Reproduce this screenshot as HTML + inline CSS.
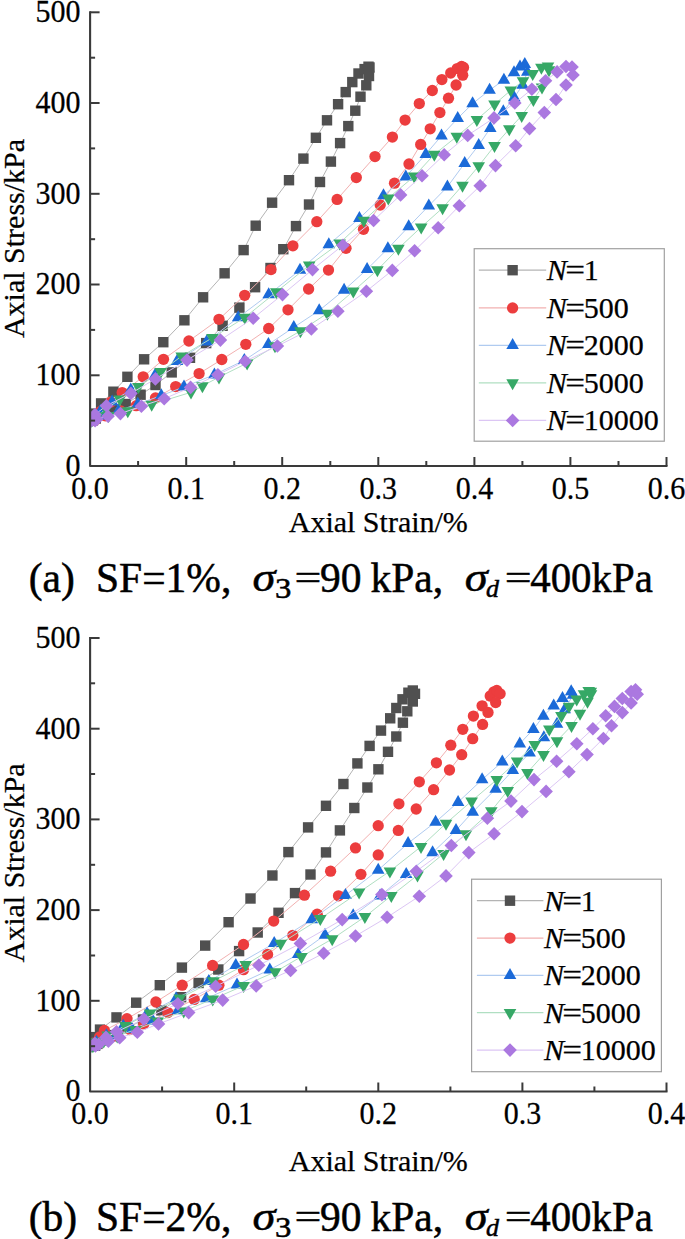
<!DOCTYPE html>
<html><head><meta charset="utf-8"><style>
html,body{margin:0;padding:0;background:#fff;}
svg{display:block;}
.t{font-family:"Liberation Serif", serif;font-size:30px;fill:#000;stroke:#000;stroke-width:0.25px;}
.c{font-family:"Liberation Serif", serif;font-size:41.5px;fill:#000;stroke:#000;stroke-width:0.5px;}
</style></head><body>
<svg width="685" height="1239" viewBox="0 0 685 1239">
<rect width="685" height="1239" fill="#fff"/>
<clipPath id="ca"><rect x="90.5" y="-14.0" width="590" height="480"/></clipPath>
<g clip-path="url(#ca)">
<polyline points="91.6,420.4 93.1,417.7 95.0,413.6 101.1,403.4 113.4,391.7 127.4,376.8 144.1,359.3 163.3,342.2 184.4,320.3 203.1,297.3 224.6,273.3 243.6,250.1 255.7,225.7 272.1,202.7 289.0,180.2 303.4,158.6 315.9,137.8 327.0,120.3 338.1,104.2 345.7,92.1 352.3,82.1 358.5,73.5 364.6,69.1 368.5,66.7 369.5,67.5 369.0,76.0 366.3,85.3 360.5,96.7 355.3,110.7 348.3,126.1 340.1,143.1 330.9,161.6 320.0,182.0 309.0,204.5 296.0,226.1 283.3,249.2 270.5,268.0 255.1,287.2 239.4,307.6 222.6,325.8 206.2,343.1 190.0,357.8 171.7,372.4 155.5,385.0 140.6,394.7 125.7,404.0 112.5,409.2 102.6,415.1 95.8,418.5 92.9,420.3" fill="none" stroke="#b4b4b4" stroke-width="1"/>
<rect x="86.4" y="415.2" width="10.4" height="10.4" fill="#505050"/>
<rect x="87.9" y="412.5" width="10.4" height="10.4" fill="#505050"/>
<rect x="89.8" y="408.4" width="10.4" height="10.4" fill="#505050"/>
<rect x="95.9" y="398.2" width="10.4" height="10.4" fill="#505050"/>
<rect x="108.2" y="386.5" width="10.4" height="10.4" fill="#505050"/>
<rect x="122.2" y="371.6" width="10.4" height="10.4" fill="#505050"/>
<rect x="138.9" y="354.1" width="10.4" height="10.4" fill="#505050"/>
<rect x="158.1" y="337.0" width="10.4" height="10.4" fill="#505050"/>
<rect x="179.2" y="315.1" width="10.4" height="10.4" fill="#505050"/>
<rect x="197.9" y="292.1" width="10.4" height="10.4" fill="#505050"/>
<rect x="219.4" y="268.1" width="10.4" height="10.4" fill="#505050"/>
<rect x="238.4" y="244.9" width="10.4" height="10.4" fill="#505050"/>
<rect x="250.5" y="220.5" width="10.4" height="10.4" fill="#505050"/>
<rect x="266.9" y="197.5" width="10.4" height="10.4" fill="#505050"/>
<rect x="283.8" y="175.0" width="10.4" height="10.4" fill="#505050"/>
<rect x="298.2" y="153.4" width="10.4" height="10.4" fill="#505050"/>
<rect x="310.7" y="132.6" width="10.4" height="10.4" fill="#505050"/>
<rect x="321.8" y="115.1" width="10.4" height="10.4" fill="#505050"/>
<rect x="332.9" y="99.0" width="10.4" height="10.4" fill="#505050"/>
<rect x="340.5" y="86.9" width="10.4" height="10.4" fill="#505050"/>
<rect x="347.1" y="76.9" width="10.4" height="10.4" fill="#505050"/>
<rect x="353.3" y="68.3" width="10.4" height="10.4" fill="#505050"/>
<rect x="359.4" y="63.9" width="10.4" height="10.4" fill="#505050"/>
<rect x="363.3" y="61.5" width="10.4" height="10.4" fill="#505050"/>
<rect x="364.3" y="62.3" width="10.4" height="10.4" fill="#505050"/>
<rect x="363.8" y="70.8" width="10.4" height="10.4" fill="#505050"/>
<rect x="361.1" y="80.1" width="10.4" height="10.4" fill="#505050"/>
<rect x="355.3" y="91.5" width="10.4" height="10.4" fill="#505050"/>
<rect x="350.1" y="105.5" width="10.4" height="10.4" fill="#505050"/>
<rect x="343.1" y="120.9" width="10.4" height="10.4" fill="#505050"/>
<rect x="334.9" y="137.9" width="10.4" height="10.4" fill="#505050"/>
<rect x="325.7" y="156.4" width="10.4" height="10.4" fill="#505050"/>
<rect x="314.8" y="176.8" width="10.4" height="10.4" fill="#505050"/>
<rect x="303.8" y="199.3" width="10.4" height="10.4" fill="#505050"/>
<rect x="290.8" y="220.9" width="10.4" height="10.4" fill="#505050"/>
<rect x="278.1" y="244.0" width="10.4" height="10.4" fill="#505050"/>
<rect x="265.3" y="262.8" width="10.4" height="10.4" fill="#505050"/>
<rect x="249.9" y="282.0" width="10.4" height="10.4" fill="#505050"/>
<rect x="234.2" y="302.4" width="10.4" height="10.4" fill="#505050"/>
<rect x="217.4" y="320.6" width="10.4" height="10.4" fill="#505050"/>
<rect x="201.0" y="337.9" width="10.4" height="10.4" fill="#505050"/>
<rect x="184.8" y="352.6" width="10.4" height="10.4" fill="#505050"/>
<rect x="166.5" y="367.2" width="10.4" height="10.4" fill="#505050"/>
<rect x="150.3" y="379.8" width="10.4" height="10.4" fill="#505050"/>
<rect x="135.4" y="389.5" width="10.4" height="10.4" fill="#505050"/>
<rect x="120.5" y="398.8" width="10.4" height="10.4" fill="#505050"/>
<rect x="107.3" y="404.0" width="10.4" height="10.4" fill="#505050"/>
<rect x="97.4" y="409.9" width="10.4" height="10.4" fill="#505050"/>
<rect x="90.6" y="413.3" width="10.4" height="10.4" fill="#505050"/>
<rect x="87.7" y="415.1" width="10.4" height="10.4" fill="#505050"/>
<polyline points="91.4,420.4 94.3,417.4 100.7,411.3 110.8,402.1 122.2,392.6 143.2,376.8 163.5,359.3 188.9,341.0 219.0,319.3 244.7,295.3 271.0,269.6 292.9,245.8 316.8,221.7 337.1,199.4 356.3,177.6 375.0,156.6 392.4,137.1 405.1,120.1 419.3,103.6 432.3,90.5 441.9,79.6 450.7,73.0 457.2,68.6 461.6,66.4 463.5,67.5 462.7,75.2 456.1,85.0 448.5,98.2 439.9,112.6 430.2,128.8 420.7,144.4 409.0,164.0 394.5,183.2 380.2,205.0 363.5,229.3 346.0,248.3 328.5,270.1 308.6,289.0 288.0,309.8 268.7,328.5 245.8,344.3 221.8,359.5 199.1,373.6 175.7,386.6 155.5,398.0 136.2,405.7 120.6,410.9 105.3,415.8 94.5,419.0 94.4,420.5" fill="none" stroke="#f2b0b0" stroke-width="1"/>
<circle cx="91.4" cy="420.4" r="5.65" fill="#ec3d3e"/>
<circle cx="94.3" cy="417.4" r="5.65" fill="#ec3d3e"/>
<circle cx="100.7" cy="411.3" r="5.65" fill="#ec3d3e"/>
<circle cx="110.8" cy="402.1" r="5.65" fill="#ec3d3e"/>
<circle cx="122.2" cy="392.6" r="5.65" fill="#ec3d3e"/>
<circle cx="143.2" cy="376.8" r="5.65" fill="#ec3d3e"/>
<circle cx="163.5" cy="359.3" r="5.65" fill="#ec3d3e"/>
<circle cx="188.9" cy="341.0" r="5.65" fill="#ec3d3e"/>
<circle cx="219.0" cy="319.3" r="5.65" fill="#ec3d3e"/>
<circle cx="244.7" cy="295.3" r="5.65" fill="#ec3d3e"/>
<circle cx="271.0" cy="269.6" r="5.65" fill="#ec3d3e"/>
<circle cx="292.9" cy="245.8" r="5.65" fill="#ec3d3e"/>
<circle cx="316.8" cy="221.7" r="5.65" fill="#ec3d3e"/>
<circle cx="337.1" cy="199.4" r="5.65" fill="#ec3d3e"/>
<circle cx="356.3" cy="177.6" r="5.65" fill="#ec3d3e"/>
<circle cx="375.0" cy="156.6" r="5.65" fill="#ec3d3e"/>
<circle cx="392.4" cy="137.1" r="5.65" fill="#ec3d3e"/>
<circle cx="405.1" cy="120.1" r="5.65" fill="#ec3d3e"/>
<circle cx="419.3" cy="103.6" r="5.65" fill="#ec3d3e"/>
<circle cx="432.3" cy="90.5" r="5.65" fill="#ec3d3e"/>
<circle cx="441.9" cy="79.6" r="5.65" fill="#ec3d3e"/>
<circle cx="450.7" cy="73.0" r="5.65" fill="#ec3d3e"/>
<circle cx="457.2" cy="68.6" r="5.65" fill="#ec3d3e"/>
<circle cx="461.6" cy="66.4" r="5.65" fill="#ec3d3e"/>
<circle cx="463.5" cy="67.5" r="5.65" fill="#ec3d3e"/>
<circle cx="462.7" cy="75.2" r="5.65" fill="#ec3d3e"/>
<circle cx="456.1" cy="85.0" r="5.65" fill="#ec3d3e"/>
<circle cx="448.5" cy="98.2" r="5.65" fill="#ec3d3e"/>
<circle cx="439.9" cy="112.6" r="5.65" fill="#ec3d3e"/>
<circle cx="430.2" cy="128.8" r="5.65" fill="#ec3d3e"/>
<circle cx="420.7" cy="144.4" r="5.65" fill="#ec3d3e"/>
<circle cx="409.0" cy="164.0" r="5.65" fill="#ec3d3e"/>
<circle cx="394.5" cy="183.2" r="5.65" fill="#ec3d3e"/>
<circle cx="380.2" cy="205.0" r="5.65" fill="#ec3d3e"/>
<circle cx="363.5" cy="229.3" r="5.65" fill="#ec3d3e"/>
<circle cx="346.0" cy="248.3" r="5.65" fill="#ec3d3e"/>
<circle cx="328.5" cy="270.1" r="5.65" fill="#ec3d3e"/>
<circle cx="308.6" cy="289.0" r="5.65" fill="#ec3d3e"/>
<circle cx="288.0" cy="309.8" r="5.65" fill="#ec3d3e"/>
<circle cx="268.7" cy="328.5" r="5.65" fill="#ec3d3e"/>
<circle cx="245.8" cy="344.3" r="5.65" fill="#ec3d3e"/>
<circle cx="221.8" cy="359.5" r="5.65" fill="#ec3d3e"/>
<circle cx="199.1" cy="373.6" r="5.65" fill="#ec3d3e"/>
<circle cx="175.7" cy="386.6" r="5.65" fill="#ec3d3e"/>
<circle cx="155.5" cy="398.0" r="5.65" fill="#ec3d3e"/>
<circle cx="136.2" cy="405.7" r="5.65" fill="#ec3d3e"/>
<circle cx="120.6" cy="410.9" r="5.65" fill="#ec3d3e"/>
<circle cx="105.3" cy="415.8" r="5.65" fill="#ec3d3e"/>
<circle cx="94.5" cy="419.0" r="5.65" fill="#ec3d3e"/>
<circle cx="94.4" cy="420.5" r="5.65" fill="#ec3d3e"/>
<polyline points="92.6,420.3 94.7,417.3 100.5,411.1 112.1,401.8 130.8,389.7 155.3,374.8 177.0,361.2 206.6,341.8 238.2,317.6 268.7,294.6 300.0,270.1 328.8,244.6 359.4,218.3 383.5,195.5 405.8,176.7 425.8,154.2 441.5,135.8 457.7,118.3 472.6,103.6 489.6,90.1 503.9,80.0 514.0,72.5 520.0,66.8 524.8,64.2 527.3,72.0 522.6,85.0 514.2,97.6 503.3,111.5 490.3,128.2 478.7,145.2 464.7,163.2 447.4,186.8 428.8,205.8 408.7,226.6 387.9,248.5 367.1,269.3 344.1,290.1 319.2,310.5 293.8,327.3 268.4,344.4 244.3,360.3 214.4,374.7 184.0,386.9 161.3,395.6 137.8,404.0 118.5,410.7 103.9,415.7 94.3,418.9 91.0,420.4" fill="none" stroke="#b0cbf0" stroke-width="1"/>
<path d="M92.6 413.0L98.9 424.0L86.3 424.0Z" fill="#1b6ad8"/>
<path d="M94.7 410.0L101.0 421.0L88.4 421.0Z" fill="#1b6ad8"/>
<path d="M100.5 403.8L106.8 414.8L94.2 414.8Z" fill="#1b6ad8"/>
<path d="M112.1 394.5L118.4 405.5L105.8 405.5Z" fill="#1b6ad8"/>
<path d="M130.8 382.4L137.1 393.4L124.5 393.4Z" fill="#1b6ad8"/>
<path d="M155.3 367.5L161.6 378.5L149.0 378.5Z" fill="#1b6ad8"/>
<path d="M177.0 353.9L183.3 364.9L170.7 364.9Z" fill="#1b6ad8"/>
<path d="M206.6 334.5L212.9 345.5L200.3 345.5Z" fill="#1b6ad8"/>
<path d="M238.2 310.3L244.5 321.3L231.9 321.3Z" fill="#1b6ad8"/>
<path d="M268.7 287.3L275.0 298.3L262.4 298.3Z" fill="#1b6ad8"/>
<path d="M300.0 262.8L306.3 273.8L293.7 273.8Z" fill="#1b6ad8"/>
<path d="M328.8 237.3L335.1 248.3L322.5 248.3Z" fill="#1b6ad8"/>
<path d="M359.4 211.0L365.7 222.0L353.1 222.0Z" fill="#1b6ad8"/>
<path d="M383.5 188.2L389.8 199.2L377.2 199.2Z" fill="#1b6ad8"/>
<path d="M405.8 169.4L412.1 180.4L399.5 180.4Z" fill="#1b6ad8"/>
<path d="M425.8 146.9L432.1 157.9L419.5 157.9Z" fill="#1b6ad8"/>
<path d="M441.5 128.5L447.8 139.5L435.2 139.5Z" fill="#1b6ad8"/>
<path d="M457.7 111.0L464.0 122.0L451.4 122.0Z" fill="#1b6ad8"/>
<path d="M472.6 96.3L478.9 107.3L466.3 107.3Z" fill="#1b6ad8"/>
<path d="M489.6 82.8L495.9 93.8L483.3 93.8Z" fill="#1b6ad8"/>
<path d="M503.9 72.7L510.2 83.7L497.6 83.7Z" fill="#1b6ad8"/>
<path d="M514.0 65.2L520.3 76.2L507.7 76.2Z" fill="#1b6ad8"/>
<path d="M520.0 59.5L526.3 70.5L513.7 70.5Z" fill="#1b6ad8"/>
<path d="M524.8 56.9L531.1 67.9L518.5 67.9Z" fill="#1b6ad8"/>
<path d="M527.3 64.7L533.6 75.7L521.0 75.7Z" fill="#1b6ad8"/>
<path d="M522.6 77.7L528.9 88.7L516.3 88.7Z" fill="#1b6ad8"/>
<path d="M514.2 90.3L520.5 101.3L507.9 101.3Z" fill="#1b6ad8"/>
<path d="M503.3 104.2L509.6 115.2L497.0 115.2Z" fill="#1b6ad8"/>
<path d="M490.3 120.9L496.6 131.9L484.0 131.9Z" fill="#1b6ad8"/>
<path d="M478.7 137.9L485.0 148.9L472.4 148.9Z" fill="#1b6ad8"/>
<path d="M464.7 155.9L471.0 166.9L458.4 166.9Z" fill="#1b6ad8"/>
<path d="M447.4 179.5L453.7 190.5L441.1 190.5Z" fill="#1b6ad8"/>
<path d="M428.8 198.5L435.1 209.5L422.5 209.5Z" fill="#1b6ad8"/>
<path d="M408.7 219.3L415.0 230.3L402.4 230.3Z" fill="#1b6ad8"/>
<path d="M387.9 241.2L394.2 252.2L381.6 252.2Z" fill="#1b6ad8"/>
<path d="M367.1 262.0L373.4 273.0L360.8 273.0Z" fill="#1b6ad8"/>
<path d="M344.1 282.8L350.4 293.8L337.8 293.8Z" fill="#1b6ad8"/>
<path d="M319.2 303.2L325.5 314.2L312.9 314.2Z" fill="#1b6ad8"/>
<path d="M293.8 320.0L300.1 331.0L287.5 331.0Z" fill="#1b6ad8"/>
<path d="M268.4 337.1L274.7 348.1L262.1 348.1Z" fill="#1b6ad8"/>
<path d="M244.3 353.0L250.6 364.0L238.0 364.0Z" fill="#1b6ad8"/>
<path d="M214.4 367.4L220.7 378.4L208.1 378.4Z" fill="#1b6ad8"/>
<path d="M184.0 379.6L190.3 390.6L177.7 390.6Z" fill="#1b6ad8"/>
<path d="M161.3 388.3L167.6 399.3L155.0 399.3Z" fill="#1b6ad8"/>
<path d="M137.8 396.7L144.1 407.7L131.5 407.7Z" fill="#1b6ad8"/>
<path d="M118.5 403.4L124.8 414.4L112.2 414.4Z" fill="#1b6ad8"/>
<path d="M103.9 408.4L110.2 419.4L97.6 419.4Z" fill="#1b6ad8"/>
<path d="M94.3 411.6L100.6 422.6L88.0 422.6Z" fill="#1b6ad8"/>
<path d="M91.0 413.1L97.3 424.1L84.7 424.1Z" fill="#1b6ad8"/>
<polyline points="92.6,419.8 97.2,415.9 106.1,409.1 119.8,399.3 138.4,386.8 160.6,371.7 181.7,356.1 212.4,337.8 244.8,317.5 276.3,292.0 309.2,265.3 339.7,243.1 363.8,220.5 388.3,198.2 414.2,176.3 434.3,154.4 456.8,136.5 476.9,119.6 494.5,104.3 510.8,90.3 523.0,81.0 532.7,73.8 541.4,67.5 548.0,66.2 549.0,70.0 542.0,87.2 533.4,99.7 521.7,115.7 509.3,129.0 494.5,145.8 478.7,166.0 462.5,185.4 442.6,208.0 421.2,227.1 398.4,248.5 377.4,270.0 353.3,291.2 327.4,313.4 300.4,330.9 275.0,346.0 247.1,363.1 219.0,377.1 202.4,386.0 191.0,392.3 151.7,404.4 127.8,411.0 108.6,415.8 95.6,419.0 91.3,420.5" fill="none" stroke="#b0dfc2" stroke-width="1"/>
<path d="M92.6 427.1L98.9 416.1L86.3 416.1Z" fill="#36a866"/>
<path d="M97.2 423.2L103.5 412.2L90.9 412.2Z" fill="#36a866"/>
<path d="M106.1 416.4L112.4 405.4L99.8 405.4Z" fill="#36a866"/>
<path d="M119.8 406.6L126.1 395.6L113.5 395.6Z" fill="#36a866"/>
<path d="M138.4 394.1L144.7 383.1L132.1 383.1Z" fill="#36a866"/>
<path d="M160.6 379.0L166.9 368.0L154.3 368.0Z" fill="#36a866"/>
<path d="M181.7 363.4L188.0 352.4L175.4 352.4Z" fill="#36a866"/>
<path d="M212.4 345.1L218.7 334.1L206.1 334.1Z" fill="#36a866"/>
<path d="M244.8 324.8L251.1 313.8L238.5 313.8Z" fill="#36a866"/>
<path d="M276.3 299.3L282.6 288.3L270.0 288.3Z" fill="#36a866"/>
<path d="M309.2 272.6L315.5 261.6L302.9 261.6Z" fill="#36a866"/>
<path d="M339.7 250.4L346.0 239.4L333.4 239.4Z" fill="#36a866"/>
<path d="M363.8 227.8L370.1 216.8L357.5 216.8Z" fill="#36a866"/>
<path d="M388.3 205.5L394.6 194.5L382.0 194.5Z" fill="#36a866"/>
<path d="M414.2 183.6L420.5 172.6L407.9 172.6Z" fill="#36a866"/>
<path d="M434.3 161.7L440.6 150.7L428.0 150.7Z" fill="#36a866"/>
<path d="M456.8 143.8L463.1 132.8L450.5 132.8Z" fill="#36a866"/>
<path d="M476.9 126.9L483.2 115.9L470.6 115.9Z" fill="#36a866"/>
<path d="M494.5 111.6L500.8 100.6L488.2 100.6Z" fill="#36a866"/>
<path d="M510.8 97.6L517.1 86.6L504.5 86.6Z" fill="#36a866"/>
<path d="M523.0 88.3L529.3 77.3L516.7 77.3Z" fill="#36a866"/>
<path d="M532.7 81.1L539.0 70.1L526.4 70.1Z" fill="#36a866"/>
<path d="M541.4 74.8L547.7 63.8L535.1 63.8Z" fill="#36a866"/>
<path d="M548.0 73.5L554.3 62.5L541.7 62.5Z" fill="#36a866"/>
<path d="M549.0 77.3L555.3 66.3L542.7 66.3Z" fill="#36a866"/>
<path d="M542.0 94.5L548.3 83.5L535.7 83.5Z" fill="#36a866"/>
<path d="M533.4 107.0L539.7 96.0L527.1 96.0Z" fill="#36a866"/>
<path d="M521.7 123.0L528.0 112.0L515.4 112.0Z" fill="#36a866"/>
<path d="M509.3 136.3L515.6 125.3L503.0 125.3Z" fill="#36a866"/>
<path d="M494.5 153.1L500.8 142.1L488.2 142.1Z" fill="#36a866"/>
<path d="M478.7 173.3L485.0 162.3L472.4 162.3Z" fill="#36a866"/>
<path d="M462.5 192.7L468.8 181.7L456.2 181.7Z" fill="#36a866"/>
<path d="M442.6 215.3L448.9 204.3L436.3 204.3Z" fill="#36a866"/>
<path d="M421.2 234.4L427.5 223.4L414.9 223.4Z" fill="#36a866"/>
<path d="M398.4 255.8L404.7 244.8L392.1 244.8Z" fill="#36a866"/>
<path d="M377.4 277.3L383.7 266.3L371.1 266.3Z" fill="#36a866"/>
<path d="M353.3 298.5L359.6 287.5L347.0 287.5Z" fill="#36a866"/>
<path d="M327.4 320.7L333.7 309.7L321.1 309.7Z" fill="#36a866"/>
<path d="M300.4 338.2L306.7 327.2L294.1 327.2Z" fill="#36a866"/>
<path d="M275.0 353.3L281.3 342.3L268.7 342.3Z" fill="#36a866"/>
<path d="M247.1 370.4L253.4 359.4L240.8 359.4Z" fill="#36a866"/>
<path d="M219.0 384.4L225.3 373.4L212.7 373.4Z" fill="#36a866"/>
<path d="M202.4 393.3L208.7 382.3L196.1 382.3Z" fill="#36a866"/>
<path d="M191.0 399.6L197.3 388.6L184.7 388.6Z" fill="#36a866"/>
<path d="M151.7 411.7L158.0 400.7L145.4 400.7Z" fill="#36a866"/>
<path d="M127.8 418.3L134.1 407.3L121.5 407.3Z" fill="#36a866"/>
<path d="M108.6 423.1L114.9 412.1L102.3 412.1Z" fill="#36a866"/>
<path d="M95.6 426.3L101.9 415.3L89.3 415.3Z" fill="#36a866"/>
<path d="M91.3 427.8L97.6 416.8L85.0 416.8Z" fill="#36a866"/>
<polyline points="91.7,420.5 92.9,418.0 95.0,414.5 106.4,405.7 130.9,393.4 155.4,378.9 187.0,360.1 220.4,340.1 253.2,318.2 282.5,294.6 312.5,269.6 343.0,245.2 373.6,220.5 400.6,194.9 422.0,175.8 444.2,154.7 467.7,135.4 494.0,117.9 514.8,103.0 531.9,89.2 545.5,80.7 557.1,71.9 566.0,66.5 572.0,67.0 573.0,75.0 566.0,85.0 556.0,99.5 544.3,112.6 529.5,128.6 515.7,145.7 495.5,165.6 480.2,185.8 459.3,205.8 438.2,227.7 414.6,250.7 392.3,270.4 366.4,291.2 337.9,311.2 311.3,329.0 277.4,346.0 245.2,361.2 217.9,374.7 190.6,387.4 164.2,398.7 141.4,406.2 120.4,413.6 108.0,416.3 96.8,419.3 95.1,420.6" fill="none" stroke="#dcc6f4" stroke-width="1"/>
<path d="M91.7 413.7L98.5 420.5L91.7 427.3L84.9 420.5Z" fill="#ab78e0"/>
<path d="M92.9 411.2L99.7 418.0L92.9 424.8L86.1 418.0Z" fill="#ab78e0"/>
<path d="M95.0 407.7L101.8 414.5L95.0 421.3L88.2 414.5Z" fill="#ab78e0"/>
<path d="M106.4 398.9L113.2 405.7L106.4 412.5L99.6 405.7Z" fill="#ab78e0"/>
<path d="M130.9 386.6L137.7 393.4L130.9 400.2L124.1 393.4Z" fill="#ab78e0"/>
<path d="M155.4 372.1L162.2 378.9L155.4 385.7L148.6 378.9Z" fill="#ab78e0"/>
<path d="M187.0 353.3L193.8 360.1L187.0 366.9L180.2 360.1Z" fill="#ab78e0"/>
<path d="M220.4 333.3L227.2 340.1L220.4 346.9L213.6 340.1Z" fill="#ab78e0"/>
<path d="M253.2 311.4L260.0 318.2L253.2 325.0L246.4 318.2Z" fill="#ab78e0"/>
<path d="M282.5 287.8L289.3 294.6L282.5 301.4L275.7 294.6Z" fill="#ab78e0"/>
<path d="M312.5 262.8L319.3 269.6L312.5 276.4L305.7 269.6Z" fill="#ab78e0"/>
<path d="M343.0 238.4L349.8 245.2L343.0 252.0L336.2 245.2Z" fill="#ab78e0"/>
<path d="M373.6 213.7L380.4 220.5L373.6 227.3L366.8 220.5Z" fill="#ab78e0"/>
<path d="M400.6 188.1L407.4 194.9L400.6 201.7L393.8 194.9Z" fill="#ab78e0"/>
<path d="M422.0 169.0L428.8 175.8L422.0 182.6L415.2 175.8Z" fill="#ab78e0"/>
<path d="M444.2 147.9L451.0 154.7L444.2 161.5L437.4 154.7Z" fill="#ab78e0"/>
<path d="M467.7 128.6L474.5 135.4L467.7 142.2L460.9 135.4Z" fill="#ab78e0"/>
<path d="M494.0 111.1L500.8 117.9L494.0 124.7L487.2 117.9Z" fill="#ab78e0"/>
<path d="M514.8 96.2L521.6 103.0L514.8 109.8L508.0 103.0Z" fill="#ab78e0"/>
<path d="M531.9 82.4L538.7 89.2L531.9 96.0L525.1 89.2Z" fill="#ab78e0"/>
<path d="M545.5 73.9L552.3 80.7L545.5 87.5L538.7 80.7Z" fill="#ab78e0"/>
<path d="M557.1 65.1L563.9 71.9L557.1 78.7L550.3 71.9Z" fill="#ab78e0"/>
<path d="M566.0 59.7L572.8 66.5L566.0 73.3L559.2 66.5Z" fill="#ab78e0"/>
<path d="M572.0 60.2L578.8 67.0L572.0 73.8L565.2 67.0Z" fill="#ab78e0"/>
<path d="M573.0 68.2L579.8 75.0L573.0 81.8L566.2 75.0Z" fill="#ab78e0"/>
<path d="M566.0 78.2L572.8 85.0L566.0 91.8L559.2 85.0Z" fill="#ab78e0"/>
<path d="M556.0 92.7L562.8 99.5L556.0 106.3L549.2 99.5Z" fill="#ab78e0"/>
<path d="M544.3 105.8L551.1 112.6L544.3 119.4L537.5 112.6Z" fill="#ab78e0"/>
<path d="M529.5 121.8L536.3 128.6L529.5 135.4L522.7 128.6Z" fill="#ab78e0"/>
<path d="M515.7 138.9L522.5 145.7L515.7 152.5L508.9 145.7Z" fill="#ab78e0"/>
<path d="M495.5 158.8L502.3 165.6L495.5 172.4L488.7 165.6Z" fill="#ab78e0"/>
<path d="M480.2 179.0L487.0 185.8L480.2 192.6L473.4 185.8Z" fill="#ab78e0"/>
<path d="M459.3 199.0L466.1 205.8L459.3 212.6L452.5 205.8Z" fill="#ab78e0"/>
<path d="M438.2 220.9L445.0 227.7L438.2 234.5L431.4 227.7Z" fill="#ab78e0"/>
<path d="M414.6 243.9L421.4 250.7L414.6 257.5L407.8 250.7Z" fill="#ab78e0"/>
<path d="M392.3 263.6L399.1 270.4L392.3 277.2L385.5 270.4Z" fill="#ab78e0"/>
<path d="M366.4 284.4L373.2 291.2L366.4 298.0L359.6 291.2Z" fill="#ab78e0"/>
<path d="M337.9 304.4L344.7 311.2L337.9 318.0L331.1 311.2Z" fill="#ab78e0"/>
<path d="M311.3 322.2L318.1 329.0L311.3 335.8L304.5 329.0Z" fill="#ab78e0"/>
<path d="M277.4 339.2L284.2 346.0L277.4 352.8L270.6 346.0Z" fill="#ab78e0"/>
<path d="M245.2 354.4L252.0 361.2L245.2 368.0L238.4 361.2Z" fill="#ab78e0"/>
<path d="M217.9 367.9L224.7 374.7L217.9 381.5L211.1 374.7Z" fill="#ab78e0"/>
<path d="M190.6 380.6L197.4 387.4L190.6 394.2L183.8 387.4Z" fill="#ab78e0"/>
<path d="M164.2 391.9L171.0 398.7L164.2 405.5L157.4 398.7Z" fill="#ab78e0"/>
<path d="M141.4 399.4L148.2 406.2L141.4 413.0L134.6 406.2Z" fill="#ab78e0"/>
<path d="M120.4 406.8L127.2 413.6L120.4 420.4L113.6 413.6Z" fill="#ab78e0"/>
<path d="M108.0 409.5L114.8 416.3L108.0 423.1L101.2 416.3Z" fill="#ab78e0"/>
<path d="M96.8 412.5L103.6 419.3L96.8 426.1L90.0 419.3Z" fill="#ab78e0"/>
<path d="M95.1 413.8L101.9 420.6L95.1 427.4L88.3 420.6Z" fill="#ab78e0"/>
</g>
<path d="M90.1 11.3L90.1 466.0L667.5 466.0" fill="none" stroke="#3a3a3a" stroke-width="2.1" stroke-linejoin="round"/>
<text transform="translate(80.6,475.9) scale(1,1.07)" text-anchor="end" class="t">0</text>
<line x1="90.1" y1="420.6" x2="95.1" y2="420.6" stroke="#3a3a3a" stroke-width="2"/>
<line x1="90.1" y1="375.3" x2="99.6" y2="375.3" stroke="#3a3a3a" stroke-width="2"/>
<text transform="translate(80.6,385.2) scale(1,1.07)" text-anchor="end" class="t">100</text>
<line x1="90.1" y1="329.9" x2="95.1" y2="329.9" stroke="#3a3a3a" stroke-width="2"/>
<line x1="90.1" y1="284.5" x2="99.6" y2="284.5" stroke="#3a3a3a" stroke-width="2"/>
<text transform="translate(80.6,294.4) scale(1,1.07)" text-anchor="end" class="t">200</text>
<line x1="90.1" y1="239.2" x2="95.1" y2="239.2" stroke="#3a3a3a" stroke-width="2"/>
<line x1="90.1" y1="193.8" x2="99.6" y2="193.8" stroke="#3a3a3a" stroke-width="2"/>
<text transform="translate(80.6,203.7) scale(1,1.07)" text-anchor="end" class="t">300</text>
<line x1="90.1" y1="148.4" x2="95.1" y2="148.4" stroke="#3a3a3a" stroke-width="2"/>
<line x1="90.1" y1="103.0" x2="99.6" y2="103.0" stroke="#3a3a3a" stroke-width="2"/>
<text transform="translate(80.6,112.9) scale(1,1.07)" text-anchor="end" class="t">400</text>
<line x1="90.1" y1="57.7" x2="95.1" y2="57.7" stroke="#3a3a3a" stroke-width="2"/>
<line x1="90.1" y1="12.3" x2="99.6" y2="12.3" stroke="#3a3a3a" stroke-width="2"/>
<text transform="translate(80.6,22.2) scale(1,1.07)" text-anchor="end" class="t">500</text>
<text transform="translate(90.1,499.2) scale(1,1.07)" text-anchor="middle" class="t">0.0</text>
<line x1="138.1" y1="466.0" x2="138.1" y2="461.0" stroke="#3a3a3a" stroke-width="2"/>
<line x1="186.2" y1="466.0" x2="186.2" y2="457.0" stroke="#3a3a3a" stroke-width="2"/>
<text transform="translate(186.2,499.2) scale(1,1.07)" text-anchor="middle" class="t">0.1</text>
<line x1="234.2" y1="466.0" x2="234.2" y2="461.0" stroke="#3a3a3a" stroke-width="2"/>
<line x1="282.2" y1="466.0" x2="282.2" y2="457.0" stroke="#3a3a3a" stroke-width="2"/>
<text transform="translate(282.2,499.2) scale(1,1.07)" text-anchor="middle" class="t">0.2</text>
<line x1="330.3" y1="466.0" x2="330.3" y2="461.0" stroke="#3a3a3a" stroke-width="2"/>
<line x1="378.3" y1="466.0" x2="378.3" y2="457.0" stroke="#3a3a3a" stroke-width="2"/>
<text transform="translate(378.3,499.2) scale(1,1.07)" text-anchor="middle" class="t">0.3</text>
<line x1="426.3" y1="466.0" x2="426.3" y2="461.0" stroke="#3a3a3a" stroke-width="2"/>
<line x1="474.4" y1="466.0" x2="474.4" y2="457.0" stroke="#3a3a3a" stroke-width="2"/>
<text transform="translate(474.4,499.2) scale(1,1.07)" text-anchor="middle" class="t">0.4</text>
<line x1="522.4" y1="466.0" x2="522.4" y2="461.0" stroke="#3a3a3a" stroke-width="2"/>
<line x1="570.4" y1="466.0" x2="570.4" y2="457.0" stroke="#3a3a3a" stroke-width="2"/>
<text transform="translate(570.4,499.2) scale(1,1.07)" text-anchor="middle" class="t">0.5</text>
<line x1="618.5" y1="466.0" x2="618.5" y2="461.0" stroke="#3a3a3a" stroke-width="2"/>
<line x1="666.5" y1="466.0" x2="666.5" y2="457.0" stroke="#3a3a3a" stroke-width="2"/>
<text transform="translate(666.5,499.2) scale(1,1.07)" text-anchor="middle" class="t">0.6</text>
<rect x="474.2" y="248.7" width="190.09999999999997" height="192.5" fill="#fff" stroke="#a0a0a0" stroke-width="1.2"/>
<line x1="478.8" y1="270.2" x2="546.2" y2="270.2" stroke="#b4b4b4" stroke-width="1.3"/>
<rect x="507.4" y="265.0" width="10.4" height="10.4" fill="#505050"/>
<text x="546.8" y="280.2" class="t" font-style="italic">N</text>
<text transform="translate(565.2,280.2) scale(1.17,1)" class="t">=</text>
<text x="583.7" y="280.2" class="t">1</text>
<line x1="478.8" y1="307.9" x2="546.2" y2="307.9" stroke="#f2b0b0" stroke-width="1.3"/>
<circle cx="512.6" cy="307.9" r="5.65" fill="#ec3d3e"/>
<text x="546.8" y="317.9" class="t" font-style="italic">N</text>
<text transform="translate(565.2,317.9) scale(1.17,1)" class="t">=</text>
<text x="583.7" y="317.9" class="t">500</text>
<line x1="478.8" y1="345.4" x2="546.2" y2="345.4" stroke="#b0cbf0" stroke-width="1.3"/>
<path d="M512.6 338.1L518.9 349.1L506.3 349.1Z" fill="#1b6ad8"/>
<text x="546.8" y="355.4" class="t" font-style="italic">N</text>
<text transform="translate(565.2,355.4) scale(1.17,1)" class="t">=</text>
<text x="583.7" y="355.4" class="t">2000</text>
<line x1="478.8" y1="382.9" x2="546.2" y2="382.9" stroke="#b0dfc2" stroke-width="1.3"/>
<path d="M512.6 390.2L518.9 379.2L506.3 379.2Z" fill="#36a866"/>
<text x="546.8" y="392.9" class="t" font-style="italic">N</text>
<text transform="translate(565.2,392.9) scale(1.17,1)" class="t">=</text>
<text x="583.7" y="392.9" class="t">5000</text>
<line x1="478.8" y1="420.4" x2="546.2" y2="420.4" stroke="#dcc6f4" stroke-width="1.3"/>
<path d="M512.6 413.6L519.4 420.4L512.6 427.2L505.8 420.4Z" fill="#ab78e0"/>
<text x="546.8" y="430.4" class="t" font-style="italic">N</text>
<text transform="translate(565.2,430.4) scale(1.17,1)" class="t">=</text>
<text x="583.7" y="430.4" class="t">10000</text>
<text x="378.3" y="531.5" text-anchor="middle" class="t">Axial Strain/%</text>
<text transform="translate(23.6,238.5) rotate(-90)" text-anchor="middle" class="t">Axial Stress/kPa</text>
<text x="28.7" y="591.9" class="c" >(a)</text>
<text x="96.0" y="591.9" class="c" >SF=1%,</text>
<text transform="translate(252.4,590.9) scale(1.12,0.96)" class="c" font-style="italic">σ</text>
<text transform="translate(274.9,597.7) scale(1.15,1)" class="c" style="font-size:28.5px">3</text>
<text transform="translate(294.6,589.6) scale(1.15,0.85)" class="c" >=</text>
<text x="319.9" y="591.9" class="c" >90</text>
<text x="370.5" y="591.9" class="c" >kPa,</text>
<text transform="translate(464.8,590.9) scale(1.12,0.96)" class="c" font-style="italic">σ</text>
<text x="485.9" y="596.8" class="c" font-style="italic" style="font-size:26px">d</text>
<text transform="translate(504.7,589.6) scale(1.15,0.85)" class="c" >=</text>
<text transform="translate(530.2,591.9) scale(0.985,1)" class="c" >400kPa</text>
<clipPath id="cb"><rect x="90.5" y="611.5" width="590" height="480"/></clipPath>
<g clip-path="url(#cb)">
<polyline points="91.7,1045.9 92.7,1043.1 96.2,1037.1 100.0,1029.6 116.5,1017.4 136.2,1002.7 159.8,985.2 181.9,967.6 205.2,945.6 228.6,922.2 250.5,898.5 272.4,875.5 288.4,852.1 308.1,827.4 326.0,805.8 343.4,784.0 357.4,763.4 369.6,745.9 381.0,730.6 390.2,718.3 396.3,708.0 402.5,699.3 408.4,692.7 412.8,690.5 415.0,693.8 412.8,701.5 407.3,711.3 402.9,722.7 396.3,736.5 388.0,751.8 378.4,769.3 367.4,787.5 354.3,808.0 339.9,830.4 326.0,852.4 310.5,874.5 295.0,893.1 278.5,912.8 257.7,932.5 239.1,951.1 218.3,969.5 198.6,983.0 181.1,997.2 161.4,1010.4 143.0,1019.5 127.5,1028.2 114.5,1035.1 104.4,1040.3 97.4,1043.9 95.1,1045.8" fill="none" stroke="#b4b4b4" stroke-width="1"/>
<rect x="86.5" y="1040.7" width="10.4" height="10.4" fill="#505050"/>
<rect x="87.5" y="1037.9" width="10.4" height="10.4" fill="#505050"/>
<rect x="91.0" y="1031.9" width="10.4" height="10.4" fill="#505050"/>
<rect x="94.8" y="1024.4" width="10.4" height="10.4" fill="#505050"/>
<rect x="111.3" y="1012.2" width="10.4" height="10.4" fill="#505050"/>
<rect x="131.0" y="997.5" width="10.4" height="10.4" fill="#505050"/>
<rect x="154.6" y="980.0" width="10.4" height="10.4" fill="#505050"/>
<rect x="176.7" y="962.4" width="10.4" height="10.4" fill="#505050"/>
<rect x="200.0" y="940.4" width="10.4" height="10.4" fill="#505050"/>
<rect x="223.4" y="917.0" width="10.4" height="10.4" fill="#505050"/>
<rect x="245.3" y="893.3" width="10.4" height="10.4" fill="#505050"/>
<rect x="267.2" y="870.3" width="10.4" height="10.4" fill="#505050"/>
<rect x="283.2" y="846.9" width="10.4" height="10.4" fill="#505050"/>
<rect x="302.9" y="822.2" width="10.4" height="10.4" fill="#505050"/>
<rect x="320.8" y="800.6" width="10.4" height="10.4" fill="#505050"/>
<rect x="338.2" y="778.8" width="10.4" height="10.4" fill="#505050"/>
<rect x="352.2" y="758.2" width="10.4" height="10.4" fill="#505050"/>
<rect x="364.4" y="740.7" width="10.4" height="10.4" fill="#505050"/>
<rect x="375.8" y="725.4" width="10.4" height="10.4" fill="#505050"/>
<rect x="385.0" y="713.1" width="10.4" height="10.4" fill="#505050"/>
<rect x="391.1" y="702.8" width="10.4" height="10.4" fill="#505050"/>
<rect x="397.3" y="694.1" width="10.4" height="10.4" fill="#505050"/>
<rect x="403.2" y="687.5" width="10.4" height="10.4" fill="#505050"/>
<rect x="407.6" y="685.3" width="10.4" height="10.4" fill="#505050"/>
<rect x="409.8" y="688.6" width="10.4" height="10.4" fill="#505050"/>
<rect x="407.6" y="696.3" width="10.4" height="10.4" fill="#505050"/>
<rect x="402.1" y="706.1" width="10.4" height="10.4" fill="#505050"/>
<rect x="397.7" y="717.5" width="10.4" height="10.4" fill="#505050"/>
<rect x="391.1" y="731.3" width="10.4" height="10.4" fill="#505050"/>
<rect x="382.8" y="746.6" width="10.4" height="10.4" fill="#505050"/>
<rect x="373.2" y="764.1" width="10.4" height="10.4" fill="#505050"/>
<rect x="362.2" y="782.3" width="10.4" height="10.4" fill="#505050"/>
<rect x="349.1" y="802.8" width="10.4" height="10.4" fill="#505050"/>
<rect x="334.7" y="825.2" width="10.4" height="10.4" fill="#505050"/>
<rect x="320.8" y="847.2" width="10.4" height="10.4" fill="#505050"/>
<rect x="305.3" y="869.3" width="10.4" height="10.4" fill="#505050"/>
<rect x="289.8" y="887.9" width="10.4" height="10.4" fill="#505050"/>
<rect x="273.3" y="907.6" width="10.4" height="10.4" fill="#505050"/>
<rect x="252.5" y="927.3" width="10.4" height="10.4" fill="#505050"/>
<rect x="233.9" y="945.9" width="10.4" height="10.4" fill="#505050"/>
<rect x="213.1" y="964.3" width="10.4" height="10.4" fill="#505050"/>
<rect x="193.4" y="977.8" width="10.4" height="10.4" fill="#505050"/>
<rect x="175.9" y="992.0" width="10.4" height="10.4" fill="#505050"/>
<rect x="156.2" y="1005.2" width="10.4" height="10.4" fill="#505050"/>
<rect x="137.8" y="1014.3" width="10.4" height="10.4" fill="#505050"/>
<rect x="122.3" y="1023.0" width="10.4" height="10.4" fill="#505050"/>
<rect x="109.3" y="1029.9" width="10.4" height="10.4" fill="#505050"/>
<rect x="99.2" y="1035.1" width="10.4" height="10.4" fill="#505050"/>
<rect x="92.2" y="1038.7" width="10.4" height="10.4" fill="#505050"/>
<rect x="89.9" y="1040.6" width="10.4" height="10.4" fill="#505050"/>
<polyline points="90.8,1045.9 93.2,1043.1 99.6,1037.0 104.4,1030.5 127.0,1018.7 155.9,1002.0 182.2,985.2 212.6,965.4 243.5,944.5 273.7,921.1 304.4,895.2 330.6,871.2 355.5,847.9 378.2,825.7 398.9,803.8 419.3,781.8 436.4,762.8 450.8,745.2 462.8,729.3 473.4,716.1 482.1,705.8 490.2,696.0 493.9,691.8 496.8,690.5 500.1,693.8 495.7,702.6 488.0,712.4 482.6,724.4 472.7,738.7 461.7,754.7 449.5,770.0 433.6,789.7 416.2,809.0 398.3,830.4 378.2,854.9 360.9,874.3 338.5,895.8 317.2,914.2 292.8,935.3 267.6,954.4 243.5,969.7 218.9,985.2 194.2,999.4 167.9,1012.6 143.8,1023.9 129.8,1029.5 113.8,1036.2 101.5,1041.1 93.3,1044.4 91.6,1045.9" fill="none" stroke="#f2b0b0" stroke-width="1"/>
<circle cx="90.8" cy="1045.9" r="5.65" fill="#ec3d3e"/>
<circle cx="93.2" cy="1043.1" r="5.65" fill="#ec3d3e"/>
<circle cx="99.6" cy="1037.0" r="5.65" fill="#ec3d3e"/>
<circle cx="104.4" cy="1030.5" r="5.65" fill="#ec3d3e"/>
<circle cx="127.0" cy="1018.7" r="5.65" fill="#ec3d3e"/>
<circle cx="155.9" cy="1002.0" r="5.65" fill="#ec3d3e"/>
<circle cx="182.2" cy="985.2" r="5.65" fill="#ec3d3e"/>
<circle cx="212.6" cy="965.4" r="5.65" fill="#ec3d3e"/>
<circle cx="243.5" cy="944.5" r="5.65" fill="#ec3d3e"/>
<circle cx="273.7" cy="921.1" r="5.65" fill="#ec3d3e"/>
<circle cx="304.4" cy="895.2" r="5.65" fill="#ec3d3e"/>
<circle cx="330.6" cy="871.2" r="5.65" fill="#ec3d3e"/>
<circle cx="355.5" cy="847.9" r="5.65" fill="#ec3d3e"/>
<circle cx="378.2" cy="825.7" r="5.65" fill="#ec3d3e"/>
<circle cx="398.9" cy="803.8" r="5.65" fill="#ec3d3e"/>
<circle cx="419.3" cy="781.8" r="5.65" fill="#ec3d3e"/>
<circle cx="436.4" cy="762.8" r="5.65" fill="#ec3d3e"/>
<circle cx="450.8" cy="745.2" r="5.65" fill="#ec3d3e"/>
<circle cx="462.8" cy="729.3" r="5.65" fill="#ec3d3e"/>
<circle cx="473.4" cy="716.1" r="5.65" fill="#ec3d3e"/>
<circle cx="482.1" cy="705.8" r="5.65" fill="#ec3d3e"/>
<circle cx="490.2" cy="696.0" r="5.65" fill="#ec3d3e"/>
<circle cx="493.9" cy="691.8" r="5.65" fill="#ec3d3e"/>
<circle cx="496.8" cy="690.5" r="5.65" fill="#ec3d3e"/>
<circle cx="500.1" cy="693.8" r="5.65" fill="#ec3d3e"/>
<circle cx="495.7" cy="702.6" r="5.65" fill="#ec3d3e"/>
<circle cx="488.0" cy="712.4" r="5.65" fill="#ec3d3e"/>
<circle cx="482.6" cy="724.4" r="5.65" fill="#ec3d3e"/>
<circle cx="472.7" cy="738.7" r="5.65" fill="#ec3d3e"/>
<circle cx="461.7" cy="754.7" r="5.65" fill="#ec3d3e"/>
<circle cx="449.5" cy="770.0" r="5.65" fill="#ec3d3e"/>
<circle cx="433.6" cy="789.7" r="5.65" fill="#ec3d3e"/>
<circle cx="416.2" cy="809.0" r="5.65" fill="#ec3d3e"/>
<circle cx="398.3" cy="830.4" r="5.65" fill="#ec3d3e"/>
<circle cx="378.2" cy="854.9" r="5.65" fill="#ec3d3e"/>
<circle cx="360.9" cy="874.3" r="5.65" fill="#ec3d3e"/>
<circle cx="338.5" cy="895.8" r="5.65" fill="#ec3d3e"/>
<circle cx="317.2" cy="914.2" r="5.65" fill="#ec3d3e"/>
<circle cx="292.8" cy="935.3" r="5.65" fill="#ec3d3e"/>
<circle cx="267.6" cy="954.4" r="5.65" fill="#ec3d3e"/>
<circle cx="243.5" cy="969.7" r="5.65" fill="#ec3d3e"/>
<circle cx="218.9" cy="985.2" r="5.65" fill="#ec3d3e"/>
<circle cx="194.2" cy="999.4" r="5.65" fill="#ec3d3e"/>
<circle cx="167.9" cy="1012.6" r="5.65" fill="#ec3d3e"/>
<circle cx="143.8" cy="1023.9" r="5.65" fill="#ec3d3e"/>
<circle cx="129.8" cy="1029.5" r="5.65" fill="#ec3d3e"/>
<circle cx="113.8" cy="1036.2" r="5.65" fill="#ec3d3e"/>
<circle cx="101.5" cy="1041.1" r="5.65" fill="#ec3d3e"/>
<circle cx="93.3" cy="1044.4" r="5.65" fill="#ec3d3e"/>
<circle cx="91.6" cy="1045.9" r="5.65" fill="#ec3d3e"/>
<polyline points="92.2,1045.6 96.5,1042.1 106.4,1035.6 123.3,1026.0 147.1,1013.6 176.1,998.6 208.8,981.4 235.8,965.3 274.2,943.4 311.8,919.5 345.5,895.3 378.2,870.1 408.1,843.2 435.6,822.0 458.1,802.2 482.1,779.6 502.3,761.7 519.8,743.7 533.4,729.3 543.4,716.1 553.7,705.8 562.5,698.2 571.2,691.6 573.0,695.0 564.7,709.6 557.0,724.0 543.9,737.6 529.6,752.9 512.8,770.4 495.7,789.0 472.7,812.0 456.0,830.4 432.6,852.6 406.2,874.3 380.1,895.8 353.2,915.6 325.0,935.0 298.2,954.4 269.8,969.7 237.0,984.9 206.3,998.6 177.9,1010.6 152.9,1020.8 132.1,1029.3 115.6,1036.0 103.5,1041.0 95.7,1044.3 94.0,1045.9" fill="none" stroke="#b0cbf0" stroke-width="1"/>
<path d="M92.2 1038.3L98.5 1049.3L85.9 1049.3Z" fill="#1b6ad8"/>
<path d="M96.5 1034.8L102.8 1045.8L90.2 1045.8Z" fill="#1b6ad8"/>
<path d="M106.4 1028.3L112.7 1039.3L100.1 1039.3Z" fill="#1b6ad8"/>
<path d="M123.3 1018.7L129.6 1029.7L117.0 1029.7Z" fill="#1b6ad8"/>
<path d="M147.1 1006.3L153.4 1017.3L140.8 1017.3Z" fill="#1b6ad8"/>
<path d="M176.1 991.3L182.4 1002.3L169.8 1002.3Z" fill="#1b6ad8"/>
<path d="M208.8 974.1L215.1 985.1L202.5 985.1Z" fill="#1b6ad8"/>
<path d="M235.8 958.0L242.1 969.0L229.5 969.0Z" fill="#1b6ad8"/>
<path d="M274.2 936.1L280.5 947.1L267.9 947.1Z" fill="#1b6ad8"/>
<path d="M311.8 912.2L318.1 923.2L305.5 923.2Z" fill="#1b6ad8"/>
<path d="M345.5 888.0L351.8 899.0L339.2 899.0Z" fill="#1b6ad8"/>
<path d="M378.2 862.8L384.5 873.8L371.9 873.8Z" fill="#1b6ad8"/>
<path d="M408.1 835.9L414.4 846.9L401.8 846.9Z" fill="#1b6ad8"/>
<path d="M435.6 814.7L441.9 825.7L429.3 825.7Z" fill="#1b6ad8"/>
<path d="M458.1 794.9L464.4 805.9L451.8 805.9Z" fill="#1b6ad8"/>
<path d="M482.1 772.3L488.4 783.3L475.8 783.3Z" fill="#1b6ad8"/>
<path d="M502.3 754.4L508.6 765.4L496.0 765.4Z" fill="#1b6ad8"/>
<path d="M519.8 736.4L526.1 747.4L513.5 747.4Z" fill="#1b6ad8"/>
<path d="M533.4 722.0L539.7 733.0L527.1 733.0Z" fill="#1b6ad8"/>
<path d="M543.4 708.8L549.7 719.8L537.1 719.8Z" fill="#1b6ad8"/>
<path d="M553.7 698.5L560.0 709.5L547.4 709.5Z" fill="#1b6ad8"/>
<path d="M562.5 690.9L568.8 701.9L556.2 701.9Z" fill="#1b6ad8"/>
<path d="M571.2 684.3L577.5 695.3L564.9 695.3Z" fill="#1b6ad8"/>
<path d="M573.0 687.7L579.3 698.7L566.7 698.7Z" fill="#1b6ad8"/>
<path d="M564.7 702.3L571.0 713.3L558.4 713.3Z" fill="#1b6ad8"/>
<path d="M557.0 716.7L563.3 727.7L550.7 727.7Z" fill="#1b6ad8"/>
<path d="M543.9 730.3L550.2 741.3L537.6 741.3Z" fill="#1b6ad8"/>
<path d="M529.6 745.6L535.9 756.6L523.3 756.6Z" fill="#1b6ad8"/>
<path d="M512.8 763.1L519.1 774.1L506.5 774.1Z" fill="#1b6ad8"/>
<path d="M495.7 781.7L502.0 792.7L489.4 792.7Z" fill="#1b6ad8"/>
<path d="M472.7 804.7L479.0 815.7L466.4 815.7Z" fill="#1b6ad8"/>
<path d="M456.0 823.1L462.3 834.1L449.7 834.1Z" fill="#1b6ad8"/>
<path d="M432.6 845.3L438.9 856.3L426.3 856.3Z" fill="#1b6ad8"/>
<path d="M406.2 867.0L412.5 878.0L399.9 878.0Z" fill="#1b6ad8"/>
<path d="M380.1 888.5L386.4 899.5L373.8 899.5Z" fill="#1b6ad8"/>
<path d="M353.2 908.3L359.5 919.3L346.9 919.3Z" fill="#1b6ad8"/>
<path d="M325.0 927.7L331.3 938.7L318.7 938.7Z" fill="#1b6ad8"/>
<path d="M298.2 947.1L304.5 958.1L291.9 958.1Z" fill="#1b6ad8"/>
<path d="M269.8 962.4L276.1 973.4L263.5 973.4Z" fill="#1b6ad8"/>
<path d="M237.0 977.6L243.3 988.6L230.7 988.6Z" fill="#1b6ad8"/>
<path d="M206.3 991.3L212.6 1002.3L200.0 1002.3Z" fill="#1b6ad8"/>
<path d="M177.9 1003.3L184.2 1014.3L171.6 1014.3Z" fill="#1b6ad8"/>
<path d="M152.9 1013.5L159.2 1024.5L146.6 1024.5Z" fill="#1b6ad8"/>
<path d="M132.1 1022.0L138.4 1033.0L125.8 1033.0Z" fill="#1b6ad8"/>
<path d="M115.6 1028.7L121.9 1039.7L109.3 1039.7Z" fill="#1b6ad8"/>
<path d="M103.5 1033.7L109.8 1044.7L97.2 1044.7Z" fill="#1b6ad8"/>
<path d="M95.7 1037.0L102.0 1048.0L89.4 1048.0Z" fill="#1b6ad8"/>
<path d="M94.0 1038.6L100.3 1049.6L87.7 1049.6Z" fill="#1b6ad8"/>
<polyline points="91.5,1045.5 96.7,1041.9 107.6,1035.3 125.4,1025.6 150.0,1013.2 179.8,998.2 213.5,981.0 245.7,964.7 280.7,943.4 320.3,918.6 359.1,892.3 389.9,871.2 421.0,846.7 446.0,823.4 471.6,801.1 496.8,779.6 517.1,761.2 534.7,744.6 549.3,729.3 561.4,715.7 569.0,706.5 576.7,699.3 584.0,694.0 590.8,691.5 588.7,690.6 591.0,694.0 587.5,701.4 580.0,713.4 571.5,725.7 557.0,740.9 543.5,754.6 527.4,772.6 507.7,790.6 491.3,810.9 466.0,833.9 443.6,853.7 417.5,875.2 391.3,895.8 364.9,916.8 332.2,939.0 301.5,956.6 275.2,971.9 243.6,985.7 212.7,999.2 183.7,1011.1 157.6,1021.2 135.3,1029.6 117.2,1036.2 103.7,1041.1 94.7,1044.3 92.9,1045.9" fill="none" stroke="#b0dfc2" stroke-width="1"/>
<path d="M91.5 1052.8L97.8 1041.8L85.2 1041.8Z" fill="#36a866"/>
<path d="M96.7 1049.2L103.0 1038.2L90.4 1038.2Z" fill="#36a866"/>
<path d="M107.6 1042.6L113.9 1031.6L101.3 1031.6Z" fill="#36a866"/>
<path d="M125.4 1032.9L131.7 1021.9L119.1 1021.9Z" fill="#36a866"/>
<path d="M150.0 1020.5L156.3 1009.5L143.7 1009.5Z" fill="#36a866"/>
<path d="M179.8 1005.5L186.1 994.5L173.5 994.5Z" fill="#36a866"/>
<path d="M213.5 988.3L219.8 977.3L207.2 977.3Z" fill="#36a866"/>
<path d="M245.7 972.0L252.0 961.0L239.4 961.0Z" fill="#36a866"/>
<path d="M280.7 950.7L287.0 939.7L274.4 939.7Z" fill="#36a866"/>
<path d="M320.3 925.9L326.6 914.9L314.0 914.9Z" fill="#36a866"/>
<path d="M359.1 899.6L365.4 888.6L352.8 888.6Z" fill="#36a866"/>
<path d="M389.9 878.5L396.2 867.5L383.6 867.5Z" fill="#36a866"/>
<path d="M421.0 854.0L427.3 843.0L414.7 843.0Z" fill="#36a866"/>
<path d="M446.0 830.7L452.3 819.7L439.7 819.7Z" fill="#36a866"/>
<path d="M471.6 808.4L477.9 797.4L465.3 797.4Z" fill="#36a866"/>
<path d="M496.8 786.9L503.1 775.9L490.5 775.9Z" fill="#36a866"/>
<path d="M517.1 768.5L523.4 757.5L510.8 757.5Z" fill="#36a866"/>
<path d="M534.7 751.9L541.0 740.9L528.4 740.9Z" fill="#36a866"/>
<path d="M549.3 736.6L555.6 725.6L543.0 725.6Z" fill="#36a866"/>
<path d="M561.4 723.0L567.7 712.0L555.1 712.0Z" fill="#36a866"/>
<path d="M569.0 713.8L575.3 702.8L562.7 702.8Z" fill="#36a866"/>
<path d="M576.7 706.6L583.0 695.6L570.4 695.6Z" fill="#36a866"/>
<path d="M584.0 701.3L590.3 690.3L577.7 690.3Z" fill="#36a866"/>
<path d="M590.8 698.8L597.1 687.8L584.5 687.8Z" fill="#36a866"/>
<path d="M588.7 697.9L595.0 686.9L582.4 686.9Z" fill="#36a866"/>
<path d="M591.0 701.3L597.3 690.3L584.7 690.3Z" fill="#36a866"/>
<path d="M587.5 708.7L593.8 697.7L581.2 697.7Z" fill="#36a866"/>
<path d="M580.0 720.7L586.3 709.7L573.7 709.7Z" fill="#36a866"/>
<path d="M571.5 733.0L577.8 722.0L565.2 722.0Z" fill="#36a866"/>
<path d="M557.0 748.2L563.3 737.2L550.7 737.2Z" fill="#36a866"/>
<path d="M543.5 761.9L549.8 750.9L537.2 750.9Z" fill="#36a866"/>
<path d="M527.4 779.9L533.7 768.9L521.1 768.9Z" fill="#36a866"/>
<path d="M507.7 797.9L514.0 786.9L501.4 786.9Z" fill="#36a866"/>
<path d="M491.3 818.2L497.6 807.2L485.0 807.2Z" fill="#36a866"/>
<path d="M466.0 841.2L472.3 830.2L459.7 830.2Z" fill="#36a866"/>
<path d="M443.6 861.0L449.9 850.0L437.3 850.0Z" fill="#36a866"/>
<path d="M417.5 882.5L423.8 871.5L411.2 871.5Z" fill="#36a866"/>
<path d="M391.3 903.1L397.6 892.1L385.0 892.1Z" fill="#36a866"/>
<path d="M364.9 924.1L371.2 913.1L358.6 913.1Z" fill="#36a866"/>
<path d="M332.2 946.3L338.5 935.3L325.9 935.3Z" fill="#36a866"/>
<path d="M301.5 963.9L307.8 952.9L295.2 952.9Z" fill="#36a866"/>
<path d="M275.2 979.2L281.5 968.2L268.9 968.2Z" fill="#36a866"/>
<path d="M243.6 993.0L249.9 982.0L237.3 982.0Z" fill="#36a866"/>
<path d="M212.7 1006.5L219.0 995.5L206.4 995.5Z" fill="#36a866"/>
<path d="M183.7 1018.4L190.0 1007.4L177.4 1007.4Z" fill="#36a866"/>
<path d="M157.6 1028.5L163.9 1017.5L151.3 1017.5Z" fill="#36a866"/>
<path d="M135.3 1036.9L141.6 1025.9L129.0 1025.9Z" fill="#36a866"/>
<path d="M117.2 1043.5L123.5 1032.5L110.9 1032.5Z" fill="#36a866"/>
<path d="M103.7 1048.4L110.0 1037.4L97.4 1037.4Z" fill="#36a866"/>
<path d="M94.7 1051.6L101.0 1040.6L88.4 1040.6Z" fill="#36a866"/>
<path d="M92.9 1053.2L99.2 1042.2L86.6 1042.2Z" fill="#36a866"/>
<polyline points="90.3,1046.0 94.9,1043.3 105.9,1037.4 116.5,1031.8 143.8,1019.1 177.8,1003.8 215.7,986.3 258.8,965.3 300.4,943.4 342.2,919.6 381.9,894.6 416.3,871.2 451.3,845.5 487.4,818.2 511.0,801.1 534.0,779.6 556.6,761.3 576.8,743.7 592.9,728.7 605.7,715.7 614.5,706.4 622.3,698.5 631.1,691.5 635.5,689.8 637.2,694.2 631.1,702.9 622.3,712.6 611.5,725.7 603.4,738.5 587.0,754.6 568.9,771.8 546.1,791.4 522.0,811.6 494.1,833.8 468.8,852.6 446.0,875.9 419.3,896.2 387.1,917.3 355.5,936.0 323.7,953.2 290.6,970.4 256.2,985.9 222.7,1000.1 188.7,1012.6 158.5,1023.9 137.3,1032.3 119.7,1037.7 108.4,1041.3 98.7,1044.4 95.4,1046.0" fill="none" stroke="#dcc6f4" stroke-width="1"/>
<path d="M90.3 1039.2L97.1 1046.0L90.3 1052.8L83.5 1046.0Z" fill="#ab78e0"/>
<path d="M94.9 1036.5L101.7 1043.3L94.9 1050.1L88.1 1043.3Z" fill="#ab78e0"/>
<path d="M105.9 1030.6L112.7 1037.4L105.9 1044.2L99.1 1037.4Z" fill="#ab78e0"/>
<path d="M116.5 1025.0L123.3 1031.8L116.5 1038.6L109.7 1031.8Z" fill="#ab78e0"/>
<path d="M143.8 1012.3L150.6 1019.1L143.8 1025.9L137.0 1019.1Z" fill="#ab78e0"/>
<path d="M177.8 997.0L184.6 1003.8L177.8 1010.6L171.0 1003.8Z" fill="#ab78e0"/>
<path d="M215.7 979.5L222.5 986.3L215.7 993.1L208.9 986.3Z" fill="#ab78e0"/>
<path d="M258.8 958.5L265.6 965.3L258.8 972.1L252.0 965.3Z" fill="#ab78e0"/>
<path d="M300.4 936.6L307.2 943.4L300.4 950.2L293.6 943.4Z" fill="#ab78e0"/>
<path d="M342.2 912.8L349.0 919.6L342.2 926.4L335.4 919.6Z" fill="#ab78e0"/>
<path d="M381.9 887.8L388.7 894.6L381.9 901.4L375.1 894.6Z" fill="#ab78e0"/>
<path d="M416.3 864.4L423.1 871.2L416.3 878.0L409.5 871.2Z" fill="#ab78e0"/>
<path d="M451.3 838.7L458.1 845.5L451.3 852.3L444.5 845.5Z" fill="#ab78e0"/>
<path d="M487.4 811.4L494.2 818.2L487.4 825.0L480.6 818.2Z" fill="#ab78e0"/>
<path d="M511.0 794.3L517.8 801.1L511.0 807.9L504.2 801.1Z" fill="#ab78e0"/>
<path d="M534.0 772.8L540.8 779.6L534.0 786.4L527.2 779.6Z" fill="#ab78e0"/>
<path d="M556.6 754.5L563.4 761.3L556.6 768.1L549.8 761.3Z" fill="#ab78e0"/>
<path d="M576.8 736.9L583.6 743.7L576.8 750.5L570.0 743.7Z" fill="#ab78e0"/>
<path d="M592.9 721.9L599.7 728.7L592.9 735.5L586.1 728.7Z" fill="#ab78e0"/>
<path d="M605.7 708.9L612.5 715.7L605.7 722.5L598.9 715.7Z" fill="#ab78e0"/>
<path d="M614.5 699.6L621.3 706.4L614.5 713.2L607.7 706.4Z" fill="#ab78e0"/>
<path d="M622.3 691.7L629.1 698.5L622.3 705.3L615.5 698.5Z" fill="#ab78e0"/>
<path d="M631.1 684.7L637.9 691.5L631.1 698.3L624.3 691.5Z" fill="#ab78e0"/>
<path d="M635.5 683.0L642.3 689.8L635.5 696.6L628.7 689.8Z" fill="#ab78e0"/>
<path d="M637.2 687.4L644.0 694.2L637.2 701.0L630.4 694.2Z" fill="#ab78e0"/>
<path d="M631.1 696.1L637.9 702.9L631.1 709.7L624.3 702.9Z" fill="#ab78e0"/>
<path d="M622.3 705.8L629.1 712.6L622.3 719.4L615.5 712.6Z" fill="#ab78e0"/>
<path d="M611.5 718.9L618.3 725.7L611.5 732.5L604.7 725.7Z" fill="#ab78e0"/>
<path d="M603.4 731.7L610.2 738.5L603.4 745.3L596.6 738.5Z" fill="#ab78e0"/>
<path d="M587.0 747.8L593.8 754.6L587.0 761.4L580.2 754.6Z" fill="#ab78e0"/>
<path d="M568.9 765.0L575.7 771.8L568.9 778.6L562.1 771.8Z" fill="#ab78e0"/>
<path d="M546.1 784.6L552.9 791.4L546.1 798.2L539.3 791.4Z" fill="#ab78e0"/>
<path d="M522.0 804.8L528.8 811.6L522.0 818.4L515.2 811.6Z" fill="#ab78e0"/>
<path d="M494.1 827.0L500.9 833.8L494.1 840.6L487.3 833.8Z" fill="#ab78e0"/>
<path d="M468.8 845.8L475.6 852.6L468.8 859.4L462.0 852.6Z" fill="#ab78e0"/>
<path d="M446.0 869.1L452.8 875.9L446.0 882.7L439.2 875.9Z" fill="#ab78e0"/>
<path d="M419.3 889.4L426.1 896.2L419.3 903.0L412.5 896.2Z" fill="#ab78e0"/>
<path d="M387.1 910.5L393.9 917.3L387.1 924.1L380.3 917.3Z" fill="#ab78e0"/>
<path d="M355.5 929.2L362.3 936.0L355.5 942.8L348.7 936.0Z" fill="#ab78e0"/>
<path d="M323.7 946.4L330.5 953.2L323.7 960.0L316.9 953.2Z" fill="#ab78e0"/>
<path d="M290.6 963.6L297.4 970.4L290.6 977.2L283.8 970.4Z" fill="#ab78e0"/>
<path d="M256.2 979.1L263.0 985.9L256.2 992.7L249.4 985.9Z" fill="#ab78e0"/>
<path d="M222.7 993.3L229.5 1000.1L222.7 1006.9L215.9 1000.1Z" fill="#ab78e0"/>
<path d="M188.7 1005.8L195.5 1012.6L188.7 1019.4L181.9 1012.6Z" fill="#ab78e0"/>
<path d="M158.5 1017.1L165.3 1023.9L158.5 1030.7L151.7 1023.9Z" fill="#ab78e0"/>
<path d="M137.3 1025.5L144.1 1032.3L137.3 1039.1L130.5 1032.3Z" fill="#ab78e0"/>
<path d="M119.7 1030.9L126.5 1037.7L119.7 1044.5L112.9 1037.7Z" fill="#ab78e0"/>
<path d="M108.4 1034.5L115.2 1041.3L108.4 1048.1L101.6 1041.3Z" fill="#ab78e0"/>
<path d="M98.7 1037.6L105.5 1044.4L98.7 1051.2L91.9 1044.4Z" fill="#ab78e0"/>
<path d="M95.4 1039.2L102.2 1046.0L95.4 1052.8L88.6 1046.0Z" fill="#ab78e0"/>
</g>
<path d="M90.1 637.0L90.1 1091.5L667.5 1091.5" fill="none" stroke="#3a3a3a" stroke-width="2.1" stroke-linejoin="round"/>
<text transform="translate(80.6,1101.4) scale(1,1.07)" text-anchor="end" class="t">0</text>
<line x1="90.1" y1="1046.2" x2="95.1" y2="1046.2" stroke="#3a3a3a" stroke-width="2"/>
<line x1="90.1" y1="1000.8" x2="99.6" y2="1000.8" stroke="#3a3a3a" stroke-width="2"/>
<text transform="translate(80.6,1010.7) scale(1,1.07)" text-anchor="end" class="t">100</text>
<line x1="90.1" y1="955.5" x2="95.1" y2="955.5" stroke="#3a3a3a" stroke-width="2"/>
<line x1="90.1" y1="910.1" x2="99.6" y2="910.1" stroke="#3a3a3a" stroke-width="2"/>
<text transform="translate(80.6,920.0) scale(1,1.07)" text-anchor="end" class="t">200</text>
<line x1="90.1" y1="864.8" x2="95.1" y2="864.8" stroke="#3a3a3a" stroke-width="2"/>
<line x1="90.1" y1="819.4" x2="99.6" y2="819.4" stroke="#3a3a3a" stroke-width="2"/>
<text transform="translate(80.6,829.3) scale(1,1.07)" text-anchor="end" class="t">300</text>
<line x1="90.1" y1="774.0" x2="95.1" y2="774.0" stroke="#3a3a3a" stroke-width="2"/>
<line x1="90.1" y1="728.7" x2="99.6" y2="728.7" stroke="#3a3a3a" stroke-width="2"/>
<text transform="translate(80.6,738.6) scale(1,1.07)" text-anchor="end" class="t">400</text>
<line x1="90.1" y1="683.3" x2="95.1" y2="683.3" stroke="#3a3a3a" stroke-width="2"/>
<line x1="90.1" y1="638.0" x2="99.6" y2="638.0" stroke="#3a3a3a" stroke-width="2"/>
<text transform="translate(80.6,647.9) scale(1,1.07)" text-anchor="end" class="t">500</text>
<text transform="translate(90.1,1124.4) scale(1,1.07)" text-anchor="middle" class="t">0.0</text>
<line x1="162.1" y1="1091.5" x2="162.1" y2="1086.5" stroke="#3a3a3a" stroke-width="2"/>
<line x1="234.2" y1="1091.5" x2="234.2" y2="1082.5" stroke="#3a3a3a" stroke-width="2"/>
<text transform="translate(234.2,1124.4) scale(1,1.07)" text-anchor="middle" class="t">0.1</text>
<line x1="306.2" y1="1091.5" x2="306.2" y2="1086.5" stroke="#3a3a3a" stroke-width="2"/>
<line x1="378.3" y1="1091.5" x2="378.3" y2="1082.5" stroke="#3a3a3a" stroke-width="2"/>
<text transform="translate(378.3,1124.4) scale(1,1.07)" text-anchor="middle" class="t">0.2</text>
<line x1="450.4" y1="1091.5" x2="450.4" y2="1086.5" stroke="#3a3a3a" stroke-width="2"/>
<line x1="522.4" y1="1091.5" x2="522.4" y2="1082.5" stroke="#3a3a3a" stroke-width="2"/>
<text transform="translate(522.4,1124.4) scale(1,1.07)" text-anchor="middle" class="t">0.3</text>
<line x1="594.4" y1="1091.5" x2="594.4" y2="1086.5" stroke="#3a3a3a" stroke-width="2"/>
<line x1="666.5" y1="1091.5" x2="666.5" y2="1082.5" stroke="#3a3a3a" stroke-width="2"/>
<text transform="translate(666.5,1124.4) scale(1,1.07)" text-anchor="middle" class="t">0.4</text>
<rect x="471.6" y="879.2" width="189.79999999999995" height="192.5" fill="#fff" stroke="#a0a0a0" stroke-width="1.2"/>
<line x1="476.9" y1="900.7" x2="543.4" y2="900.7" stroke="#b4b4b4" stroke-width="1.3"/>
<rect x="504.8" y="895.5" width="10.4" height="10.4" fill="#505050"/>
<text x="543.9" y="910.7" class="t" font-style="italic">N</text>
<text transform="translate(562.3,910.7) scale(1.17,1)" class="t">=</text>
<text x="580.8" y="910.7" class="t">1</text>
<line x1="476.9" y1="938.1" x2="543.4" y2="938.1" stroke="#f2b0b0" stroke-width="1.3"/>
<circle cx="510.0" cy="938.1" r="5.65" fill="#ec3d3e"/>
<text x="543.9" y="948.1" class="t" font-style="italic">N</text>
<text transform="translate(562.3,948.1) scale(1.17,1)" class="t">=</text>
<text x="580.8" y="948.1" class="t">500</text>
<line x1="476.9" y1="975.4" x2="543.4" y2="975.4" stroke="#b0cbf0" stroke-width="1.3"/>
<path d="M510.0 968.1L516.3 979.1L503.7 979.1Z" fill="#1b6ad8"/>
<text x="543.9" y="985.4" class="t" font-style="italic">N</text>
<text transform="translate(562.3,985.4) scale(1.17,1)" class="t">=</text>
<text x="580.8" y="985.4" class="t">2000</text>
<line x1="476.9" y1="1012.7" x2="543.4" y2="1012.7" stroke="#b0dfc2" stroke-width="1.3"/>
<path d="M510.0 1020.0L516.3 1009.0L503.7 1009.0Z" fill="#36a866"/>
<text x="543.9" y="1022.7" class="t" font-style="italic">N</text>
<text transform="translate(562.3,1022.7) scale(1.17,1)" class="t">=</text>
<text x="580.8" y="1022.7" class="t">5000</text>
<line x1="476.9" y1="1050.1" x2="543.4" y2="1050.1" stroke="#dcc6f4" stroke-width="1.3"/>
<path d="M510.0 1043.3L516.8 1050.1L510.0 1056.9L503.2 1050.1Z" fill="#ab78e0"/>
<text x="543.9" y="1060.1" class="t" font-style="italic">N</text>
<text transform="translate(562.3,1060.1) scale(1.17,1)" class="t">=</text>
<text x="580.8" y="1060.1" class="t">10000</text>
<text x="378.3" y="1171.4" text-anchor="middle" class="t">Axial Strain/%</text>
<text transform="translate(24.2,862.9) rotate(-90)" text-anchor="middle" class="t">Axial Stress/kPa</text>
<text x="28.7" y="1231.0" class="c" >(b)</text>
<text x="96.0" y="1231.0" class="c" >SF=2%,</text>
<text transform="translate(252.4,1230.0) scale(1.12,0.96)" class="c" font-style="italic">σ</text>
<text transform="translate(274.9,1236.8) scale(1.15,1)" class="c" style="font-size:28.5px">3</text>
<text transform="translate(294.6,1228.7) scale(1.15,0.85)" class="c" >=</text>
<text x="319.9" y="1231.0" class="c" >90</text>
<text x="370.5" y="1231.0" class="c" >kPa,</text>
<text transform="translate(464.8,1230.0) scale(1.12,0.96)" class="c" font-style="italic">σ</text>
<text x="485.9" y="1235.9" class="c" font-style="italic" style="font-size:26px">d</text>
<text transform="translate(504.7,1228.7) scale(1.15,0.85)" class="c" >=</text>
<text transform="translate(530.2,1231.0) scale(0.985,1)" class="c" >400kPa</text>
</svg>
</body></html>
